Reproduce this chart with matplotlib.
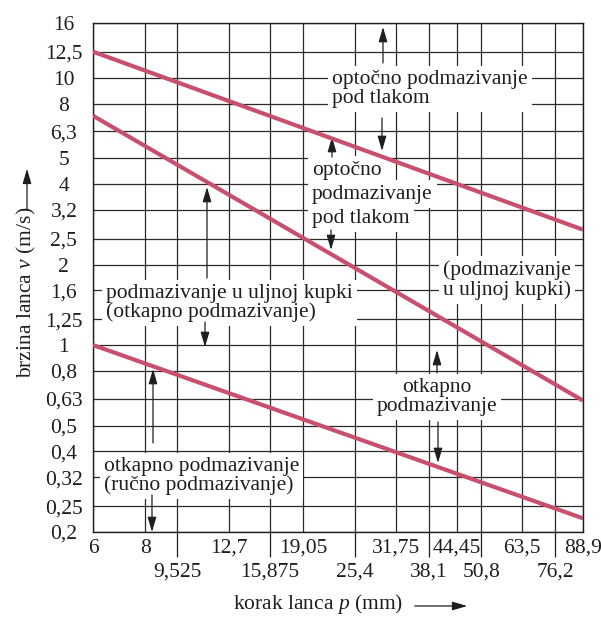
import matplotlib
matplotlib.use("Agg")
import matplotlib.pyplot as plt
from matplotlib.ticker import FixedLocator, FixedFormatter, NullLocator

# ---------------- data ----------------
x_major = [6, 8, 12.7, 19.05, 31.75, 44.45, 63.5, 88.9]
x_major_labels = ["6", "8", "12,7", "19,05", "31,75", "44,45", "63,5", "88,9"]
x_minor = [9.525, 15.875, 25.4, 38.1, 50.8, 76.2]
x_minor_labels = ["9,525", "15,875", "25,4", "38,1", "50,8", "76,2"]

y_ticks = [0.2, 0.25, 0.32, 0.4, 0.5, 0.63, 0.8, 1, 1.25, 1.6, 2, 2.5,
           3.2, 4, 5, 6.3, 8, 10, 12.5, 16]
y_labels = ["0,2", "0,25", "0,32", "0,4", "0,5", "0,63", "0,8", "1", "1,25",
            "1,6", "2", "2,5", "3,2", "4", "5", "6,3", "8", "10", "12,5", "16"]

pitch = [6, 88.9]
v_pressure = [12.5, 2.7]   # upper limit line
v_bath = [7.2, 0.62]       # middle line
v_drip = [1.0, 0.225]      # lower line

# ---------------- style ----------------
plt.rcParams['font.family'] = ['Liberation Serif', 'DejaVu Serif']
plt.rcParams['mathtext.fontset'] = 'custom'
plt.rcParams['mathtext.rm'] = 'Liberation Serif'
plt.rcParams['mathtext.it'] = 'Liberation Serif:italic'

FS = 15.5
TFS = 15.5
W, H = 601, 618
fig = plt.figure(figsize=(W / 100, H / 100), dpi=100)
L, R, T, B = 93, 583, 23, 532
ax = fig.add_axes([L / W, 1 - B / H, (R - L) / W, (B - T) / H])

pink = "#c8506e"
gridc = "#2a2a2a"
ink = "#1e1e1e"

ax.set_xscale('log')
ax.set_yscale('log')
ax.set_xlim(pitch[0], pitch[-1])
ax.set_ylim(y_ticks[0], y_ticks[-1])

ax.xaxis.set_major_locator(FixedLocator(x_major))
ax.xaxis.set_major_formatter(FixedFormatter(x_major_labels))
ax.xaxis.set_minor_locator(FixedLocator(x_minor))
ax.xaxis.set_minor_formatter(FixedFormatter(x_minor_labels))
ax.yaxis.set_major_locator(FixedLocator(y_ticks))
ax.yaxis.set_major_formatter(FixedFormatter(y_labels))
ax.yaxis.set_minor_locator(NullLocator())

ax.tick_params(axis='x', which='major', length=0, pad=5, labelsize=TFS,
               labelcolor=ink)
ax.tick_params(axis='x', which='minor', length=18, width=0.9, color=ink,
               pad=4, labelsize=TFS, labelcolor=ink)
ax.tick_params(axis='y', which='major', length=0, pad=21, labelsize=TFS,
               labelcolor=ink)
for lbl in ax.get_yticklabels():
    lbl.set_horizontalalignment('center')
for lbl in ax.get_xticklabels():
    if lbl.get_text() == "88,9":
        lbl.set_horizontalalignment('center')

ax.grid(True, which='both', axis='x', color=gridc, lw=0.9, zorder=0)
ax.grid(True, which='major', axis='y', color=gridc, lw=0.9, zorder=0)
ax.set_axisbelow(True)
for s in ax.spines.values():
    s.set_color(ink)
    s.set_linewidth(1.0)

# curves
for v in (v_pressure, v_bath, v_drip):
    ax.plot(pitch, v, color=pink, lw=3.0, solid_capstyle='butt', zorder=5)


def fx(x):
    return (x - L) / (R - L)


def fy(y):
    return (B - y) / (B - T)


box = dict(facecolor='white', edgecolor='none', pad=3)
ASTYLE = '-|>,head_length=0.75,head_width=0.22'


def label(x, y, s, ha='left'):
    ax.text(fx(x), fy(y), s, transform=ax.transAxes, ha=ha, va='center',
            fontsize=FS, bbox=box, zorder=3, linespacing=1.0, color=ink)


def arrow(x, y0, y1):
    ax.annotate('', xy=(fx(x), fy(y1)), xytext=(fx(x), fy(y0)),
                xycoords='axes fraction', textcoords='axes fraction',
                arrowprops=dict(arrowstyle=ASTYLE, color=ink, lw=0.9,
                                shrinkA=0, shrinkB=0, mutation_scale=12),
                zorder=4)


# annotations
label(332, 89, "optočno podmazivanje\npod tlakom")
arrow(383, 63, 27)
arrow(382, 118, 151)

label(312, 170, "optočno")
label(312, 194, "podmazivanje")
label(312, 218, "pod tlakom")
arrow(332, 157, 137)
arrow(331, 230, 250)

label(571, 280, "(podmazivanje\nu uljnoj kupki)", ha='right')

label(106, 303, "podmazivanje u uljnoj kupki\n(otkapno podmazivanje)")
arrow(207, 278, 187)
arrow(205, 322, 347)

label(437, 397, "otkapno\npodmazivanje", ha='center')
arrow(437, 373, 350)
arrow(438, 422, 463)

label(104, 476, "otkapno podmazivanje\n(ručno podmazivanje)")
arrow(153, 443, 369)
arrow(152, 495, 532)

# axis titles
fig.text(318 / W, 1 - 604 / H, "korak lanca $p$ (mm)", ha='center', va='center',
         fontsize=FS, color=ink)
fig.add_artist(matplotlib.patches.FancyArrowPatch(
    (412 / W, 1 - 606 / H), (470 / W, 1 - 606 / H), transform=fig.transFigure,
    arrowstyle=ASTYLE, color=ink, lw=0.9, mutation_scale=12))
fig.text(26 / W, 1 - 292 / H, "brzina lanca $v$ (m/s)", ha='center', va='center',
         rotation=90, fontsize=FS, color=ink)
fig.add_artist(matplotlib.patches.FancyArrowPatch(
    (27 / W, 1 - 213 / H), (27 / W, 1 - 166 / H), transform=fig.transFigure,
    arrowstyle=ASTYLE, color=ink, lw=0.9, mutation_scale=12))

fig.savefig("out.png", dpi=100)
